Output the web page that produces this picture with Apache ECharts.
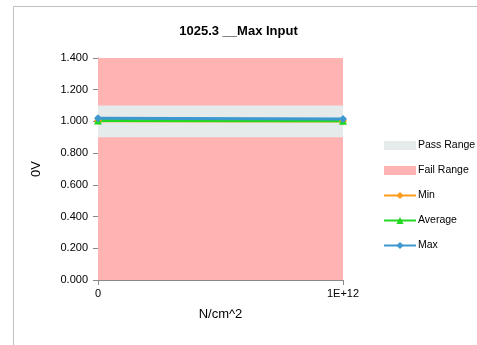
<!DOCTYPE html>
<html><head><meta charset="utf-8">
<script src="https://cdn.jsdelivr.net/npm/echarts@6/dist/echarts.min.js"></script>
<style>html,body{margin:0;padding:0;background:#fff}#c{width:477px;height:345px}</style>
</head><body><div id="c"></div>
<script>
const titleText = '1025.3 __Max Input';
const xValues = [0, 1e12];
const failTop = [1.4, 1.4];
const passUpper = [1.1, 1.1];
const passLower = [0.9, 0.9];
const minVals = [1.005, 1.003];
const avgVals = [1.006, 1.004];
const maxVals = [1.020, 1.016];
const yLabelTitle = '0V';
const xLabelTitle = 'N/cm^2';

const pair = (arr) => arr.map((v, i) => [xValues[i], v]);
const font = 'Liberation Sans';
const chart = echarts.init(document.getElementById('c'), null, {renderer: 'canvas'});
const areaSeries = (name, data, color, z) => ({
  name, type: 'line', data: pair(data), symbol: 'none',
  lineStyle: {width: 0}, areaStyle: {color, opacity: 1, origin: 'start'}, itemStyle: {color},
  silent: true, z
});
const lineSeries = (name, data, color, symbol) => ({
  name, type: 'line', data: pair(data), symbol, symbolSize: 8, clip: false,
  lineStyle: {width: 3, color}, itemStyle: {color}, z: 5
});
chart.setOption({
  animation: false,
  textStyle: {fontFamily: font},
  title: {text: titleText, left: 'center', top: 20,
    textStyle: {fontFamily: font, fontSize: 13, fontWeight: 'bold', color: '#000'}},
  graphic: [{type: 'rect', shape: {x: 13.5, y: 6.5, width: 500, height: 400},
    style: {fill: 'none', stroke: '#c0c0c0', lineWidth: 1}, silent: true}],
  grid: {left: 98, right: 134, top: 58, bottom: 65},
  legend: {
    orient: 'vertical', left: 378, top: 135, itemGap: 14, itemWidth: 32, itemHeight: 9,
    padding: 5,
    textStyle: {fontFamily: font, fontSize: 10.5, color: '#000', padding: [0,0,0,-3]},
    data: [
      {name: 'Pass Range', icon: 'rect'},
      {name: 'Fail Range', icon: 'rect'},
      'Min', 'Average', 'Max'
    ]
  },
  xAxis: {
    type: 'value', min: 0, max: 1e12, interval: 1e12,
    name: xLabelTitle, nameLocation: 'middle', nameGap: 28,
    nameTextStyle: {fontFamily: font, fontSize: 13, color: '#000'},
    axisLine: {show: true, lineStyle: {color: '#888'}},
    axisTick: {show: true, length: 5, lineStyle: {color: '#888'}},
    splitLine: {show: false},
    axisLabel: {fontFamily: font, fontSize: 11, color: '#000', margin: 8,
      formatter: v => v === 0 ? '0' : '1E+12'}
  },
  yAxis: {
    type: 'value', min: 0, max: 1.4, interval: 0.2,
    name: yLabelTitle, nameLocation: 'middle', nameGap: 55, nameRotate: 90,
    nameTextStyle: {fontFamily: font, fontSize: 13, color: '#000'},
    axisLine: {show: true, lineStyle: {color: '#888'}},
    axisTick: {show: true, length: 5, lineStyle: {color: '#888'}},
    splitLine: {show: false},
    axisLabel: {fontFamily: font, fontSize: 11, color: '#000', margin: 10,
      formatter: v => v.toFixed(3)}
  },
  series: [
    areaSeries('Fail Range', failTop, '#FFB3B3', 1),
    areaSeries('Pass Range', passUpper, '#E5EBEB', 2),
    areaSeries('Fail Range', passLower, '#FFB3B3', 3),
    lineSeries('Min', minVals, '#FF9A1A', 'diamond'),
    lineSeries('Average', avgVals, '#22D822', 'triangle'),
    lineSeries('Max', maxVals, '#3D98D0', 'diamond')
  ]
});
</script></body></html>
